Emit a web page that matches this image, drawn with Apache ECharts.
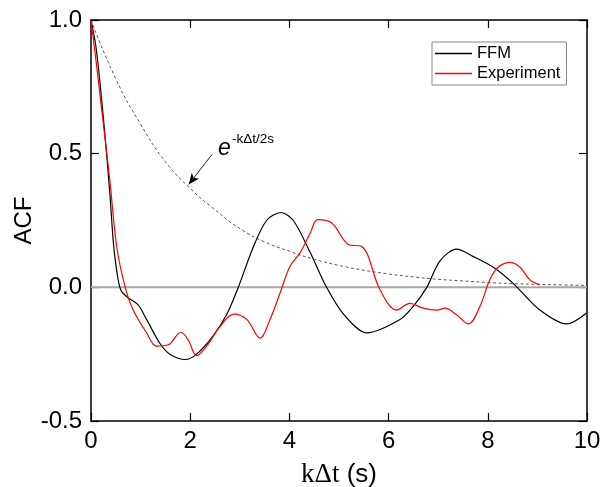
<!DOCTYPE html>
<html>
<head>
<meta charset="utf-8">
<script src="https://cdn.jsdelivr.net/npm/echarts@6/dist/echarts.min.js"></script>
<style>
  html, body { margin: 0; padding: 0; background: #fff; }
  #chart { width: 611px; height: 487px; }
</style>
</head>
<body>
<div id="chart"></div>
<script>
  // FFM model curve
  const ffmX = [0, 0.1, 0.2, 0.3, 0.38, 0.45, 0.52, 0.6, 0.72, 0.95, 1.12, 1.39, 1.59, 1.9, 2.13, 2.47, 2.74, 2.97, 3.27, 3.54, 3.83, 4.08, 4.42, 4.75, 5.09, 5.56, 6.23, 6.5, 6.77, 7.04, 7.37, 7.71, 8.11, 8.51, 9.05, 9.59, 10.0]
  const ffmY = [1.0, 0.9, 0.73, 0.53, 0.35, 0.17, 0.06, -0.01, -0.035, -0.066, -0.12, -0.21, -0.25, -0.27, -0.25, -0.18, -0.10, 0.0, 0.15, 0.25, 0.28, 0.25, 0.13, 0.0, -0.10, -0.17, -0.12, -0.07, 0.0, 0.10, 0.143, 0.115, 0.075, 0.015, -0.085, -0.137, -0.095]

  // Experiment curve
  const expX = [0, 0.1, 0.2, 0.3, 0.38, 0.52, 0.69, 0.85, 1.12, 1.32, 1.56, 1.81, 1.96, 2.13, 2.33, 2.6, 2.88, 3.14, 3.41, 3.61, 3.81, 4.01, 4.21, 4.42, 4.57, 4.86, 5.19, 5.46, 5.83, 6.16, 6.43, 6.7, 6.97, 7.14, 7.37, 7.61, 7.84, 8.04, 8.21, 8.45, 8.65, 8.85, 9.04]
  const expY = [1.0, 0.85, 0.69, 0.53, 0.40, 0.15, 0.0, -0.085, -0.17, -0.22, -0.215, -0.168, -0.197, -0.256, -0.22, -0.147, -0.10, -0.12, -0.19, -0.12, -0.022, 0.078, 0.128, 0.203, 0.253, 0.24, 0.16, 0.153, -0.01, -0.085, -0.06, -0.078, -0.085, -0.078, -0.103, -0.137, -0.072, 0.028, 0.075, 0.093, 0.075, 0.028, 0.01]

  // dashed decay curve e^(-kΔt/2s), sampled every 0.5 s
  const decayX = [0, 0.5, 1, 1.5, 2, 2.5, 3, 3.5, 4, 4.5, 5, 5.5, 6, 6.5, 7, 7.5, 8, 8.5, 9, 9.5, 10]
  const decayY = [1.0, 0.78, 0.61, 0.47, 0.37, 0.29, 0.22, 0.17, 0.135, 0.105, 0.082, 0.064, 0.05, 0.039, 0.03, 0.024, 0.018, 0.014, 0.011, 0.009, 0.007]

  const xTicks = { min: 0, max: 10, interval: 2 }
  const yTicks = { min: -0.5, max: 1.0, interval: 0.5 }

  const pairs = (xs, ys) => xs.map((x, i) => [x, ys[i]])

  const font = 'Liberation Sans, Arial, sans-serif'

  const axisCommon = {
    type: 'value',
    axisLine: { show: true, onZero: false, lineStyle: { color: '#000', width: 1.5 } },
    axisTick: { show: true, inside: true, length: 8, lineStyle: { color: '#000', width: 1.2 } },
    splitLine: { show: false }
  }

  const chart = echarts.init(document.getElementById('chart'))
  chart.setOption({
    animation: false,
    backgroundColor: '#fff',
    grid: { left: 91, right: 24, top: 20, bottom: 66, outerBoundsMode: 'none', containLabel: false },
    legend: {
      data: ['FFM', 'Experiment'],
      orient: 'vertical',
      left: 432,
      top: 42,
      width: 134,
      icon: 'rect',
      itemWidth: 37,
      itemHeight: 1.3,
      itemGap: 3,
      padding: [3, 6, 3, 3],
      borderColor: '#888',
      borderWidth: 1,
      textStyle: { fontFamily: font, fontSize: 16.5, color: '#000', lineHeight: 17 }
    },
    xAxis: [
      Object.assign({}, axisCommon, xTicks, {
        position: 'bottom',
        axisLabel: { fontFamily: font, fontSize: 24, color: '#000', margin: 8 },
        name: '{a|kΔt}{b| (s)}',
        nameLocation: 'middle',
        nameGap: 40,
        nameMoveOverlap: false,
        nameTextStyle: {
          rich: {
            a: { fontFamily: 'Liberation Serif, Times New Roman, serif', fontSize: 27, color: '#000' },
            b: { fontFamily: font, fontSize: 26, color: '#000' }
          }
        }
      }),
      Object.assign({}, axisCommon, xTicks, { position: 'top', axisLabel: { show: false } })
    ],
    yAxis: [
      Object.assign({}, axisCommon, yTicks, {
        position: 'left',
        axisLabel: { fontFamily: font, fontSize: 24, color: '#000', margin: 9, formatter: v => v.toFixed(1) },
        name: 'ACF',
        nameLocation: 'middle',
        nameGap: 55,
        nameMoveOverlap: false,
        nameTextStyle: { fontFamily: font, fontSize: 24, color: '#000' }
      }),
      Object.assign({}, axisCommon, yTicks, { position: 'right', axisLabel: { show: false } })
    ],
    series: [
      {
        name: 'zero',
        type: 'line',
        data: [[0, 0], [10, 0]],
        showSymbol: false,
        silent: true,
        lineStyle: { color: '#a8a8a8', width: 2 },
        z: 1
      },
      {
        name: 'decay',
        type: 'line',
        data: pairs(decayX, decayY),
        smooth: 0.5,
        showSymbol: false,
        silent: true,
        lineStyle: { color: '#444', width: 0.9, type: [3, 2.5] },
        z: 2,
        markLine: {
          silent: true,
          symbol: ['none', 'arrow'],
          symbolSize: [7, 11],
          label: { show: false },
          lineStyle: { color: '#000', width: 0.9, type: 'solid' },
          data: [[{ coord: [2.44, 0.497] }, { coord: [1.97, 0.385] }]]
        }
      },
      {
        name: 'FFM',
        type: 'line',
        data: pairs(ffmX, ffmY),
        smooth: 0.3,
        showSymbol: false,
        lineStyle: { color: '#000', width: 1.2 },
        itemStyle: { color: '#000' },
        z: 3
      },
      {
        name: 'Experiment',
        type: 'line',
        data: pairs(expX, expY),
        smooth: 0.35,
        showSymbol: false,
        lineStyle: { color: '#f00', width: 1.2 },
        itemStyle: { color: '#f00' },
        z: 4
      }
    ],
    graphic: [
      {
        type: 'text',
        left: 218,
        top: 137,
        style: { text: 'e', font: 'italic 23px ' + font, fill: '#000' }
      },
      {
        type: 'text',
        left: 232,
        top: 132,
        style: { text: '-kΔt/2s', font: '13.5px ' + font, fill: '#000' }
      }
    ]
  })
</script>
</body>
</html>
